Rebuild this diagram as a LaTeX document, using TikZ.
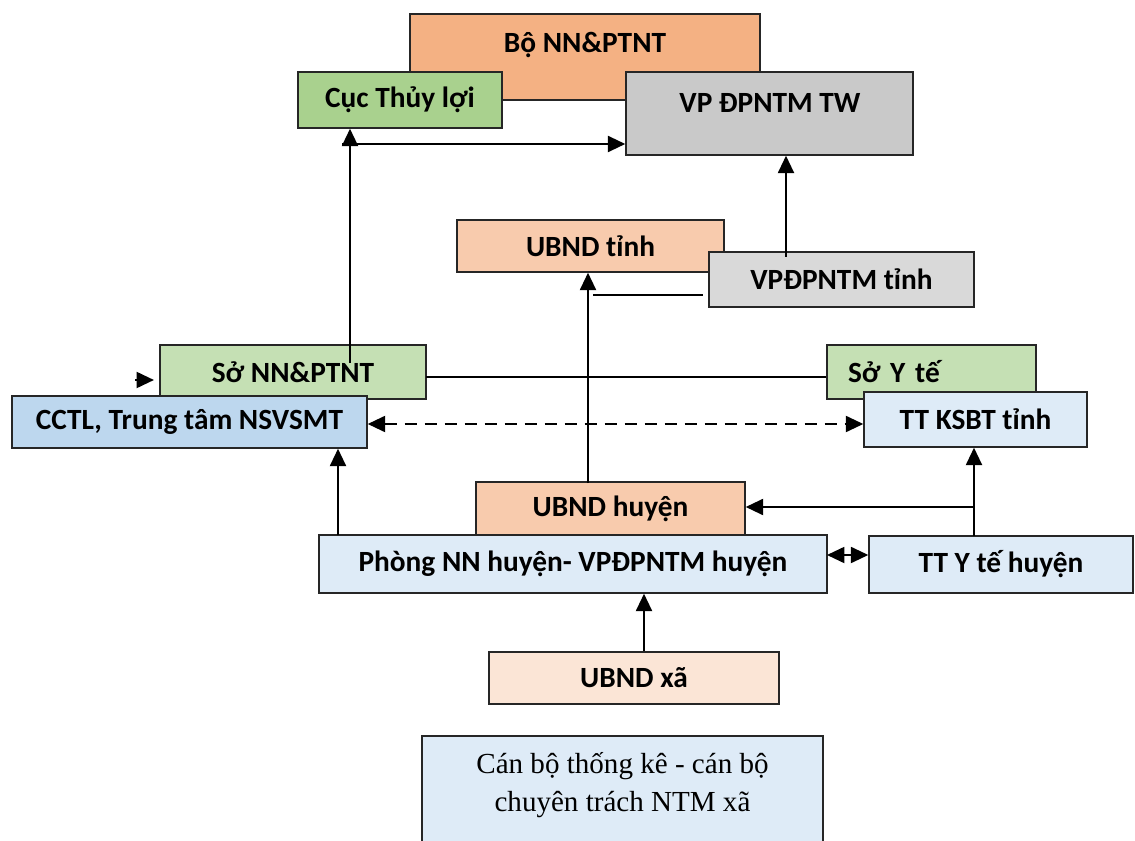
\documentclass[tikz,border=0pt]{standalone}
\usepackage{fontspec}
\setmainfont{Carlito}
\newfontfamily\bodyserif{Liberation Serif}
\usetikzlibrary{arrows.meta}
\usetikzlibrary{calc}
\definecolor{edgeGray}{HTML}{262626}
\definecolor{boOrange}{HTML}{F4B183}
\definecolor{cucGreen}{HTML}{A9D18E}
\definecolor{twGray}{HTML}{C9C9C9}
\definecolor{tinhOrange}{HTML}{F8CBAD}
\definecolor{tinhGray}{HTML}{D9D9D9}
\definecolor{soGreen}{HTML}{C5E0B4}
\definecolor{cctlBlue}{HTML}{BDD7EE}
\definecolor{paleBlue}{HTML}{DEEBF7}
\definecolor{xaPeach}{HTML}{FBE5D6}
\tikzset{every picture/.style={line width=1.1pt},
  orgbox/.style={draw=edgeGray,line width=1.1pt,inner sep=0pt,font=\bfseries\fontsize{22}{26}\selectfont},
  hdr/.style={font=\bfseries\fontsize{22}{26}\selectfont,inner sep=0pt},
  arr/.style={-{Triangle[length=13pt,width=12pt]},line width=1.5pt},
  dblarr/.style={{Triangle[length=13pt,width=12pt]}-{Triangle[length=13pt,width=12pt]},line width=1.4pt,dash pattern=on 9pt off 6pt}}

\begin{document}
\begin{tikzpicture}[x=0.75pt,y=-0.75pt]
\useasboundingbox (0,0) rectangle (1135,841);
\clip (0,0) rectangle (1135,841);
% trung uong
\node[orgbox,fill=boOrange,minimum width=262.5pt,minimum height=64.5pt] (bo) at (585,57) {};
\node[hdr] (boText) at (585,45) {Bộ NN\&PTNT};
\node[orgbox,fill=cucGreen,minimum width=153pt,minimum height=42pt] (cuc) at (400,100) {Cục Thủy lợi};
\node[orgbox,fill=twGray,minimum width=215.25pt,minimum height=62.25pt] (vptw) at (769.5,113.5) {};
\node[hdr] (vptwText) at (770,103) {VP ĐPNTM TW};
% tinh
\node[orgbox,fill=tinhOrange,minimum width=200.25pt,minimum height=39pt] (ubtinh) at (590.5,246) {UBND tỉnh};
\node[orgbox,fill=tinhGray,minimum width=198.75pt,minimum height=41.25pt] (vptinh) at (841.5,279.5) {VPĐPNTM tỉnh};
\node[orgbox,fill=soGreen,minimum width=199.5pt,minimum height=40.5pt] (soNN) at (293,372) {Sở NN\&PTNT};
\node[orgbox,fill=cctlBlue,minimum width=266.25pt,minimum height=39pt] (cctl) at (189.5,422) {CCTL, Trung tâm NSVSMT};
\node[orgbox,fill=soGreen,minimum width=156.75pt,minimum height=40.5pt,text width=125.25pt,inner xsep=15.75pt,align=left] (soyte) at (931.5,372) {Sở Y tế};
\node[orgbox,fill=paleBlue,minimum width=167.25pt,minimum height=41.25pt] (ttksbt) at (975.5,419.5) {TT KSBT tỉnh};
% huyen, xa
\node[orgbox,fill=tinhOrange,minimum width=201.75pt,minimum height=39.75pt] (ubhuyen) at (610.5,508.5) {UBND huyện};
\node[orgbox,fill=paleBlue,minimum width=381pt,minimum height=43.5pt] (phong) at (573,564) {Phòng NN huyện- VPĐPNTM huyện};
\node[orgbox,fill=paleBlue,minimum width=198pt,minimum height=42.75pt] (ttyte) at (1001,564.5) {TT Y tế huyện};
\node[orgbox,fill=xaPeach,minimum width=217.5pt,minimum height=39pt] (ubxa) at (634,678) {UBND xã};
\node[orgbox,fill=paleBlue,minimum width=300.75pt,minimum height=93pt] (canbo) at (622.5,798) {};
\node[inner sep=0pt,align=center,font=\bodyserif\fontsize{21.8}{28.5}\selectfont] (canboText) at (622.5,785) {Cán bộ thống kê - cán bộ\\chuyên trách NTM xã};
% cac duong noi
\coordinate (soTop) at (350,363);
\coordinate (twFrom) at (342,144);
\coordinate (tinhUp) at (786,257);
\coordinate (lineA) at (593,295);
\coordinate (lineB) at (703,295);
\coordinate (huyenUp) at (588,483);
\coordinate (soIn) at (135,380);
\coordinate (soRight) at (426,377);
\coordinate (phongUp) at (338,535);
\coordinate (yteUp) at (974,536);
\coordinate (yteMid) at (974,507);
\coordinate (phongRight) at (827,555);
\coordinate (xaUp) at (644,651);
\draw[arr] (soTop) -- (soTop |- cuc.south);
\draw[arr] (twFrom) -- (twFrom -| vptw.west);
\draw[arr] (tinhUp) -- (tinhUp |- vptw.south);
\draw (lineA) -- (lineB);
\draw[arr] (huyenUp) -- (huyenUp |- ubtinh.south);
\draw[arr] (soIn) -- ([xshift=-4pt]soIn -| soNN.west);
\draw (soRight) -- (soRight -| soyte.west);
\draw[dblarr] ([yshift=-1.5pt]cctl.east) -- ([yshift=-1.5pt]cctl.east -| ttksbt.west);
\draw[arr] (phongUp) -- (phongUp |- cctl.south);
\draw[arr] (yteUp) -- (yteUp |- ttksbt.south);
\draw[arr] (yteMid) -- (yteMid -| ubhuyen.east);
\draw[dblarr,dash phase=4pt] (phongRight) -- (phongRight -| ttyte.west);
\draw[arr] (xaUp) -- (xaUp |- phong.south);
\end{tikzpicture}
\end{document}
